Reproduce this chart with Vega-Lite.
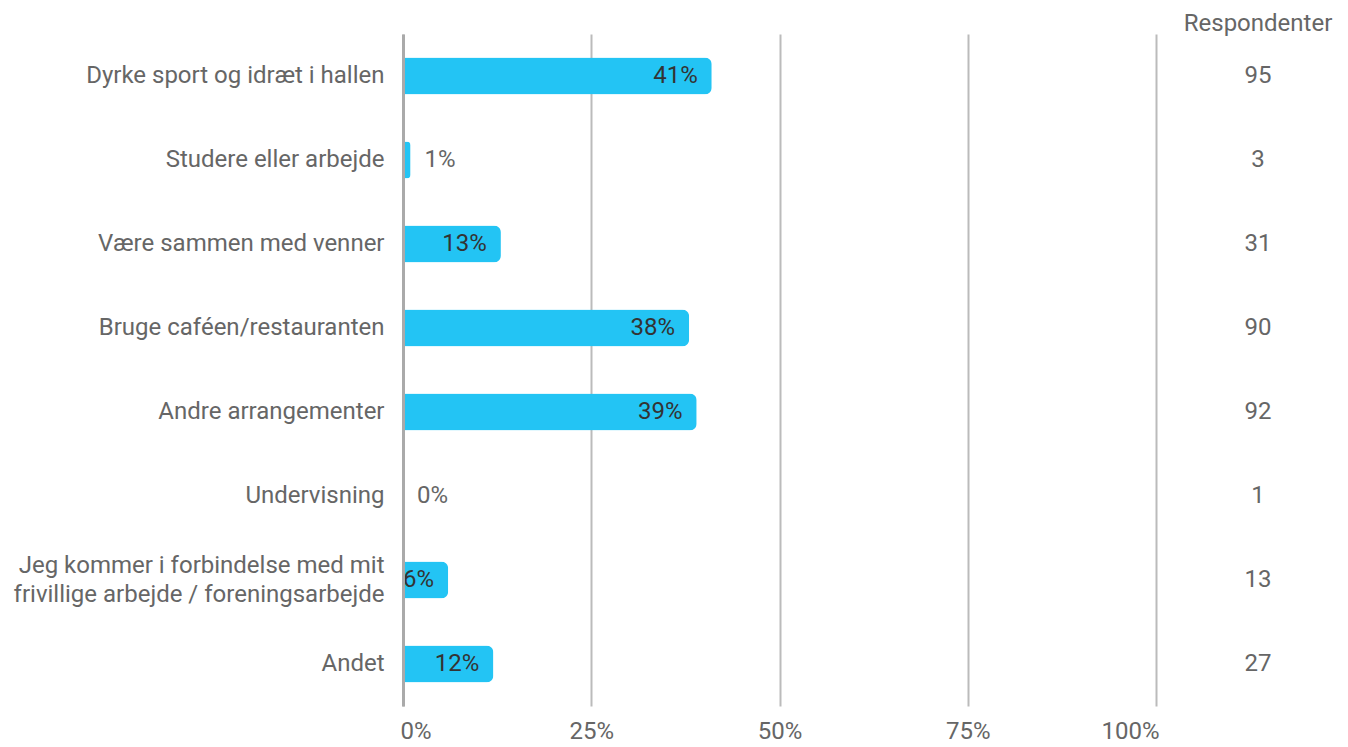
{
  "$schema": "https://vega.github.io/schema/vega-lite/v6.json",
  "padding": {"left": 13, "top": 12, "right": 0, "bottom": 0},
  "background": "white",
  "bounds": "flush",
  "spacing": 20,
  "config": {
    "view": {"stroke": null},
    "font": "Roboto",
    "text": {"font": "Roboto"}
  },
  "data": {
    "values": [
      {"cat": "Dyrke sport og idræt i hallen", "pct": 0.41, "n": 95},
      {"cat": "Studere eller arbejde", "pct": 0.01, "n": 3},
      {"cat": "Være sammen med venner", "pct": 0.13, "n": 31},
      {"cat": "Bruge caféen/restauranten", "pct": 0.38, "n": 90},
      {"cat": "Andre arrangementer", "pct": 0.39, "n": 92},
      {"cat": "Undervisning", "pct": 0.0, "n": 1},
      {"cat": "Jeg kommer i forbindelse med mit|frivillige arbejde / foreningsarbejde", "pct": 0.06, "n": 13},
      {"cat": "Andet", "pct": 0.12, "n": 27}
    ]
  },
  "hconcat": [
    {
      "width": 753,
      "height": 672,
      "encoding": {
        "y": {
          "field": "cat", "type": "nominal", "sort": null,
          "scale": {"paddingInner": 0.56, "paddingOuter": 0.28},
          "axis": {
            "title": null, "ticks": false, "domain": true,
            "domainColor": "#aaaaaa", "domainWidth": 3,
            "labelFontSize": 24, "labelColor": "#666666", "labelFont": "Roboto",
            "labelPadding": 19, "labelLimit": 500, "labelLineHeight": 29,
            "labelOffset": {"condition": {"test": "indexof(datum.value, '|') >= 0", "value": -14}, "value": 0},
            "labelExpr": "split(datum.label, '|')", "zindex": 1
          }
        },
        "x": {
          "field": "pct", "type": "quantitative",
          "scale": {"domain": [0, 1], "nice": false},
          "axis": {
            "title": null, "format": ".0%", "values": [0, 0.25, 0.5, 0.75, 1],
            "grid": true, "gridColor": "#bbbbbb", "gridWidth": 2,
            "domain": false, "ticks": false,
            "labelFontSize": 24, "labelColor": "#666666", "labelFont": "Roboto",
            "labelPadding": 13, "labelFlush": true, "labelFlushOffset": 3
          }
        }
      },
      "layer": [
        {
          "mark": {"type": "bar", "color": "#23c4f4", "cornerRadiusEnd": 7}
        },
        {
          "transform": [{"filter": "datum.pct >= 0.05"}],
          "mark": {"type": "text", "align": "right", "dx": -14, "fontSize": 24, "color": "#333333", "font": "Roboto"},
          "encoding": {"text": {"field": "pct", "type": "quantitative", "format": ".0%"}}
        },
        {
          "transform": [{"filter": "datum.pct < 0.05"}],
          "mark": {"type": "text", "align": "left", "dx": 14, "fontSize": 24, "color": "#666666", "font": "Roboto"},
          "encoding": {"text": {"field": "pct", "type": "quantitative", "format": ".0%"}}
        }
      ]
    },
    {
      "width": 164,
      "height": 672,
      "title": {"text": "Respondenter", "fontSize": 24, "fontWeight": "normal", "color": "#666666", "font": "Roboto", "anchor": "middle", "baseline": "alphabetic", "offset": -21},
      "mark": {"type": "text", "fontSize": 24, "color": "#666666", "font": "Roboto"},
      "encoding": {
        "y": {
          "field": "cat", "type": "nominal", "sort": null,
          "scale": {"paddingInner": 0.56, "paddingOuter": 0.28},
          "axis": null
        },
        "text": {"field": "n", "type": "quantitative"}
      }
    }
  ]
}
